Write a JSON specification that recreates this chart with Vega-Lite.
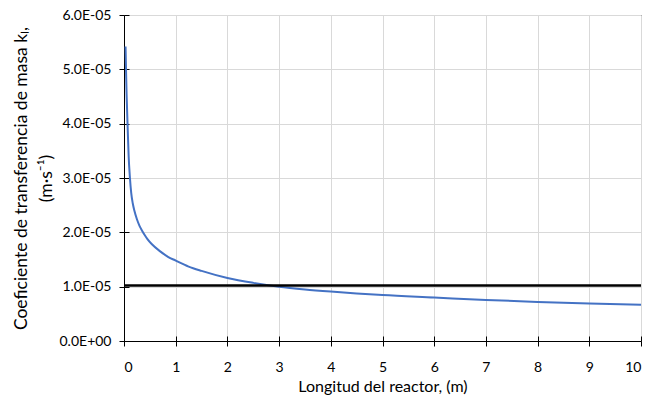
{
  "$schema": "https://vega.github.io/schema/vega-lite/v6.json",
  "autosize": "none",
  "width": 517,
  "height": 326,
  "padding": {"left": 124, "top": 15, "right": 10, "bottom": 60},
  "background": "white",
  "config": {
    "font": "Lato",
    "view": {"stroke": "black", "strokeWidth": 1},
    "axis": {
      "labelFont": "Lato",
      "titleFont": "Lato",
      "labelFontSize": 14,
      "titleFontSize": 16,
      "labelColor": "#000000",
      "titleColor": "#000000",
      "titleFontWeight": "normal",
      "domainColor": "black",
      "tickColor": "black",
      "gridColor": "#d9d9d9",
      "gridWidth": 1
    }
  },
  "datasets": {
    "curve": [
      {"L": 0.03, "k": 5.42e-5},
      {"L": 0.04, "k": 4.95e-5},
      {"L": 0.05, "k": 4.55e-5},
      {"L": 0.07, "k": 3.95e-5},
      {"L": 0.09, "k": 3.4e-5},
      {"L": 0.115, "k": 3.0e-5},
      {"L": 0.14, "k": 2.72e-5},
      {"L": 0.17, "k": 2.53e-5},
      {"L": 0.2, "k": 2.4e-5},
      {"L": 0.25, "k": 2.24e-5},
      {"L": 0.3, "k": 2.12e-5},
      {"L": 0.35, "k": 2.03e-5},
      {"L": 0.4, "k": 1.95e-5},
      {"L": 0.45, "k": 1.88e-5},
      {"L": 0.54, "k": 1.78e-5},
      {"L": 0.7, "k": 1.65e-5},
      {"L": 0.85, "k": 1.55e-5},
      {"L": 1.0, "k": 1.48e-5},
      {"L": 1.25, "k": 1.37e-5},
      {"L": 1.5, "k": 1.29e-5},
      {"L": 2.0, "k": 1.16e-5},
      {"L": 2.5, "k": 1.07e-5},
      {"L": 3.0, "k": 1.0e-5},
      {"L": 3.5, "k": 0.95e-5},
      {"L": 4.0, "k": 0.91e-5},
      {"L": 5.0, "k": 0.845e-5},
      {"L": 6.0, "k": 0.8e-5},
      {"L": 7.0, "k": 0.755e-5},
      {"L": 8.0, "k": 0.72e-5},
      {"L": 9.0, "k": 0.69e-5},
      {"L": 10.0, "k": 0.665e-5}
    ],
    "limit": [{"k": 1.02e-5}]
  },
  "resolve": {"axis": {"x": "independent", "y": "independent"}},
  "layer": [
    {
      "data": {"name": "curve"},
      "mark": {"type": "line", "color": "#4472C4", "strokeWidth": 2, "interpolate": "monotone"},
      "encoding": {
        "x": {
          "field": "L", "type": "quantitative",
          "scale": {"domain": [0, 10], "nice": false},
          "axis": {
            "orient": "bottom",
            "title": "Longitud del reactor, (m)",
            "values": [0,1,2,3,4,5,6,7,8,9,10],
            "tickSize": 5,
            "labelPadding": 14,
            "titlePadding": 4,
            "grid": true
          }
        },
        "y": {
          "field": "k", "type": "quantitative",
          "scale": {"domain": [0, 6e-5], "nice": false},
          "axis": {
            "orient": "left",
            "title": ["Coeficiente de transferencia de masa kₗ,", "(m·s⁻¹)"],
            "titleFontSize": 17.5,
            "values": [0, 1e-5, 2e-5, 3e-5, 4e-5, 5e-5, 6e-5],
            "labelExpr": "datum.value == 0 ? '0.0E+00' : format(datum.value * 100000, '.1f') + 'E-05'",
            "tickSize": 5,
            "labelPadding": 8,
            "titlePadding": 4,
            "titleLineHeight": 25,
            "grid": true
          }
        }
      }
    },
    {
      "data": {"name": "curve"},
      "mark": {"type": "line", "opacity": 0},
      "encoding": {
        "x": {
          "field": "L", "type": "quantitative",
          "axis": {
            "orient": "bottom",
            "title": null,
            "values": [0,1,2,3,4,5,6,7,8,9,10],
            "tickSize": -5,
            "labels": false,
            "domain": false,
            "grid": false
          }
        },
        "y": {
          "field": "k", "type": "quantitative",
          "axis": {
            "orient": "left",
            "title": null,
            "values": [0, 1e-5, 2e-5, 3e-5, 4e-5, 5e-5, 6e-5],
            "tickSize": -5,
            "labels": false,
            "domain": false,
            "grid": false
          }
        }
      }
    },
    {
      "data": {"name": "limit"},
      "mark": {"type": "rule", "color": "black", "strokeWidth": 2.5},
      "encoding": {
        "y": {"field": "k", "type": "quantitative", "axis": null}
      }
    }
  ]
}
